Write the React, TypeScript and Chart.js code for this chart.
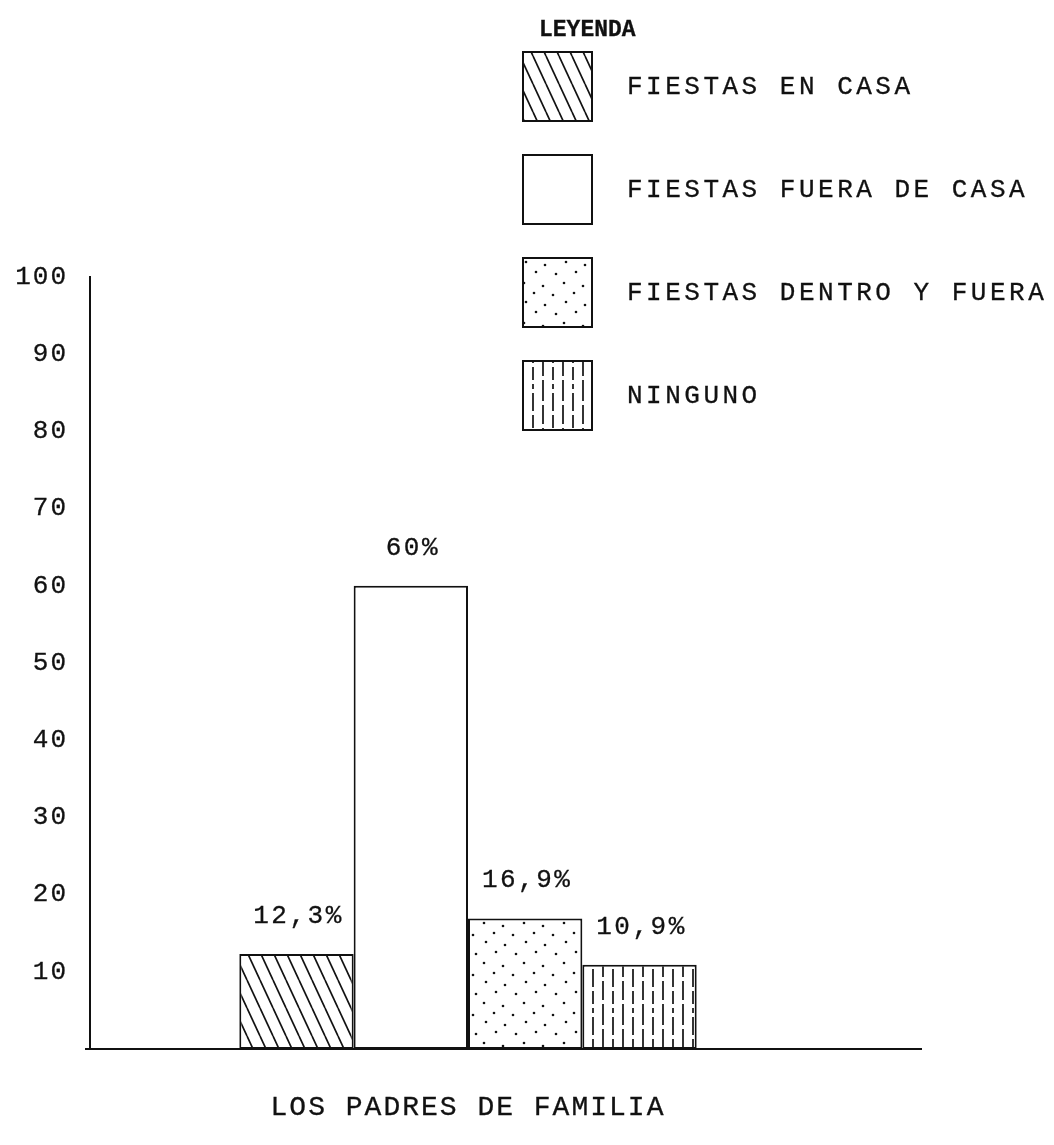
import React, { useEffect, useRef } from "react";
import { Chart, registerables } from "chart.js";

Chart.register(...registerables);

const categories = ["LOS PADRES DE FAMILIA"];
const seriesNames = [
  "FIESTAS EN CASA",
  "FIESTAS FUERA DE CASA",
  "FIESTAS DENTRO Y FUERA",
  "NINGUNO",
];
const seriesValues = [12.3, 60, 16.9, 10.9];
const valueLabels = ["12,3%", "60%", "16,9%", "10,9%"];
const yTickValues = [10, 20, 30, 40, 50, 60, 70, 80, 90, 100];
const legendTitle = "LEYENDA";
const patternKinds = ["hatch", "blank", "dots", "dashes"];

const FONT = "'Liberation Mono', 'Courier New', monospace";
const INK = "#111";
const STROKE = 0.3;

function makePattern(kind: string): CanvasPattern | string {
  const c = document.createElement("canvas");
  const g = c.getContext("2d")!;
  if (kind === "blank") return "#ffffff";
  if (kind === "hatch") {
    const w = 13, h = 28;
    c.width = w; c.height = h;
    g.fillStyle = "#fff"; g.fillRect(0, 0, w, h);
    g.strokeStyle = INK; g.lineWidth = 1.7;
    for (let k = -1; k <= 1; k++) {
      g.beginPath();
      g.moveTo(k * w, 0);
      g.lineTo(k * w + w, h);
      g.stroke();
    }
  } else if (kind === "dots") {
    const w = 40, h = 40;
    c.width = w; c.height = h;
    g.fillStyle = "#fff"; g.fillRect(0, 0, w, h);
    g.fillStyle = INK;
    const pts = [
      [4, 3], [23, 6], [14, 13], [33, 15], [6, 22], [25, 25], [16, 32], [36, 34],
    ];
    for (const [x, y] of pts) {
      g.beginPath(); g.arc(x, y, 1.3, 0, Math.PI * 2); g.fill();
    }
  } else if (kind === "dashes") {
    const w = 20, h = 48;
    c.width = w; c.height = h;
    g.fillStyle = "#fff"; g.fillRect(0, 0, w, h);
    g.strokeStyle = INK; g.lineWidth = 1.7;
    const segs = [
      [3, 0, 17], [3, 21, 40], [3, 44, 48],
      [13, 0, 5], [13, 9, 27], [13, 31, 44],
    ];
    for (const [x, a, b] of segs) {
      g.beginPath(); g.moveTo(x, a); g.lineTo(x, b); g.stroke();
    }
  }
  return g.createPattern(c, "repeat")!;
}

function drawText(ctx: any, text: string, x: number, y: number) {
  ctx.lineWidth = STROKE;
  ctx.strokeStyle = INK;
  ctx.fillText(text, x, y);
  ctx.strokeText(text, x, y);
}

export default function App() {
  const ref = useRef<HTMLCanvasElement | null>(null);

  useEffect(() => {
    if (!ref.current) return;
    const patterns = patternKinds.map(makePattern);

    const spacingPlugin = {
      id: "spacing",
      beforeDraw(chart: any) {
        (chart.ctx as any).letterSpacing = "2px";
      },
    };

    const axisLinePlugin = {
      id: "axisLine",
      beforeDatasetsDraw(chart: any) {
        const { ctx, chartArea } = chart;
        ctx.save();
        ctx.strokeStyle = INK;
        ctx.lineWidth = 2;
        ctx.beginPath();
        ctx.moveTo(85, chartArea.bottom);
        ctx.lineTo(922, chartArea.bottom);
        ctx.stroke();
        ctx.restore();
      },
    };

    const valueLabelPlugin = {
      id: "valueLabels",
      afterDatasetsDraw(chart: any) {
        const { ctx } = chart;
        ctx.save();
        ctx.letterSpacing = "2.5px";
        ctx.font = `26px ${FONT}`;
        ctx.fillStyle = INK;
        ctx.textAlign = "center";
        ctx.textBaseline = "middle";
        chart.data.datasets.forEach((ds: any, i: number) => {
          const el = chart.getDatasetMeta(i).data[0];
          drawText(ctx, valueLabels[i], el.x + 2, el.y - 38);
        });
        ctx.restore();
      },
    };

    const legendPlugin = {
      id: "boxLegend",
      afterDraw(chart: any) {
        const { ctx } = chart;
        ctx.save();
        ctx.fillStyle = INK;
        ctx.textBaseline = "middle";
        ctx.textAlign = "left";
        ctx.letterSpacing = "0px";
        ctx.font = `bold 23px ${FONT}`;
        drawText(ctx, legendTitle, 539, 30);
        ctx.letterSpacing = "3.5px";
        ctx.font = `26px ${FONT}`;
        chart.data.datasets.forEach((ds: any, i: number) => {
          const bx = 523, by = 52 + i * 103, s = 69;
          ctx.fillStyle = ds.backgroundColor;
          ctx.fillRect(bx, by, s, s);
          ctx.strokeStyle = INK;
          ctx.lineWidth = 2;
          ctx.strokeRect(bx, by, s, s);
          ctx.fillStyle = INK;
          drawText(ctx, ds.label, 627, by + 35);
        });
        ctx.restore();
      },
    };

    const chart = new Chart(ref.current, {
      type: "bar",
      data: {
        labels: categories,
        datasets: seriesNames.map((name, i) => ({
          label: name,
          data: [seriesValues[i]],
          backgroundColor: patterns[i] as any,
          borderColor: INK,
          borderWidth: 2,
          borderSkipped: false,
          categoryPercentage: 0.605,
          barPercentage: 1,
        })),
      },
      options: {
        responsive: false,
        animation: false,
        devicePixelRatio: 1,
        layout: { padding: { left: 0, right: 208, top: 277, bottom: 0 } },
        plugins: {
          legend: { display: false },
          tooltip: { enabled: false },
        },
        scales: {
          x: {
            grid: { display: false, drawTicks: false },
            border: { display: false },
            ticks: {
              color: INK,
              font: { family: FONT, size: 28 },
              padding: 42,
              maxRotation: 0,
              autoSkip: false,
              textStrokeColor: INK,
              textStrokeWidth: STROKE,
            },
            afterFit: (s: any) => {
              s.height = 96;
            },
          },
          y: {
            min: 0,
            max: 100,
            afterBuildTicks: (s: any) => {
              s.ticks = yTickValues.map((v) => ({ value: v }));
            },
            grid: { display: false, drawTicks: false },
            border: { display: true, color: INK, width: 2 },
            ticks: {
              color: INK,
              font: { family: FONT, size: 26 },
              padding: 22,
              textStrokeColor: INK,
              textStrokeWidth: STROKE,
            },
            afterFit: (s: any) => {
              s.width = 90;
            },
          },
        },
      },
      plugins: [spacingPlugin, axisLinePlugin, valueLabelPlugin, legendPlugin],
    });
    return () => chart.destroy();
  }, []);

  return (
    <div style={{ position: "absolute", left: 0, top: 0, width: 1054, height: 1145, background: "#fff" }}>
      <canvas ref={ref} width={1054} height={1145} />
    </div>
  );
}
